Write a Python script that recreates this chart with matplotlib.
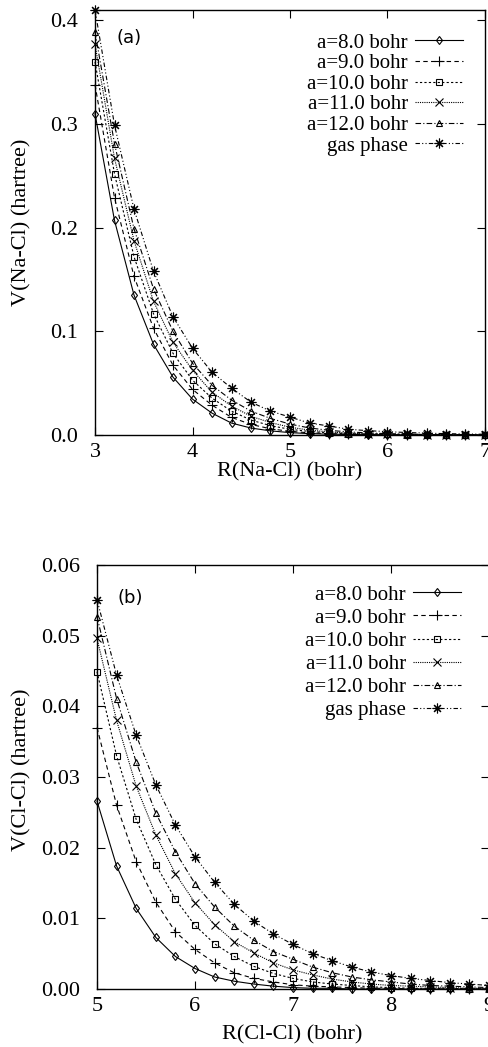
import matplotlib
matplotlib.use('Agg')
import matplotlib.pyplot as plt
import numpy as np

plt.rcParams['font.family'] = ['Liberation Serif', 'DejaVu Serif']
plt.rcParams['lines.linewidth'] = 0.8

labels = ['a=8.0 bohr', 'a=9.0 bohr', 'a=10.0 bohr', 'a=11.0 bohr', 'a=12.0 bohr', 'gas phase']

# (a) Na-Cl, R = 3.0 .. 7.0 step 0.2
r_nacl = np.round(np.arange(3.0, 7.01, 0.2), 1)
nacl_a8 = [0.310, 0.207, 0.135, 0.0875, 0.0558, 0.0346, 0.0211, 0.0115, 0.0067, 0.0040, 0.0023,
           0.0013, 0.0008, 0.0005, 0.0003, 0.0002, 0.0001, 0.0001, 0.0, 0.0, 0.0]
nacl_a9 = [0.338, 0.229, 0.153, 0.103, 0.0673, 0.0440, 0.0288, 0.0170, 0.0102, 0.0060, 0.0035,
           0.0021, 0.0013, 0.0008, 0.0005, 0.0003, 0.0002, 0.0001, 0.0001, 0.0, 0.0]
nacl_a10 = [0.360, 0.252, 0.172, 0.117, 0.0788, 0.0529, 0.0356, 0.0230, 0.0144, 0.0090, 0.0055,
            0.0034, 0.0021, 0.0013, 0.0008, 0.0005, 0.0003, 0.0002, 0.0001, 0.0001, 0.0]
nacl_a11 = [0.377, 0.267, 0.1875, 0.129, 0.0894, 0.0625, 0.0413, 0.0280, 0.0180, 0.0120, 0.0075,
            0.0047, 0.0030, 0.0019, 0.0012, 0.0008, 0.0005, 0.0003, 0.0002, 0.0001, 0.0001]
nacl_a12 = [0.389, 0.281, 0.199, 0.141, 0.100, 0.0692, 0.0480, 0.0337, 0.0230, 0.0160, 0.0105,
            0.0068, 0.0045, 0.0030, 0.0020, 0.0013, 0.0009, 0.0006, 0.0004, 0.0003, 0.0002]
nacl_gas = [0.410, 0.299, 0.218, 0.158, 0.114, 0.0837, 0.0606, 0.0452, 0.0317, 0.0230, 0.0173,
            0.0115, 0.0087, 0.0055, 0.0042, 0.0032, 0.0024, 0.0018, 0.0013, 0.0010, 0.0007]

# (b) Cl-Cl, R = 5.0 .. 9.0 step 0.2
r_clcl = np.round(np.arange(5.0, 9.01, 0.2), 1)
clcl_a8 = [0.0266, 0.0174, 0.0114, 0.0073, 0.0046, 0.0029, 0.0017, 0.0011, 0.0007, 0.0004, 0.0002,
           0.0001, 0.0001, 0.0, 0.0, 0.0, 0.0, 0.0, 0.0, 0.0, 0.0]
clcl_a9 = [0.0370, 0.0260, 0.0180, 0.0123, 0.0081, 0.0056, 0.0037, 0.0023, 0.0015, 0.0010, 0.0006,
           0.0004, 0.0003, 0.0002, 0.0001, 0.0001, 0.0, 0.0, 0.0, 0.0, 0.0]
clcl_a10 = [0.0449, 0.0330, 0.0240, 0.0176, 0.0127, 0.0090, 0.0064, 0.0046, 0.0032, 0.0022, 0.0015,
            0.0010, 0.0007, 0.0005, 0.0003, 0.0002, 0.0001, 0.0001, 0.0001, 0.0, 0.0]
clcl_a11 = [0.0496, 0.0380, 0.0287, 0.0218, 0.0163, 0.0122, 0.0091, 0.0067, 0.0051, 0.0037, 0.0027,
            0.0020, 0.0014, 0.0010, 0.0007, 0.0005, 0.0004, 0.0003, 0.0002, 0.0001, 0.0001]
clcl_a12 = [0.0527, 0.0411, 0.0321, 0.0249, 0.0194, 0.0149, 0.0116, 0.0089, 0.0069, 0.0053, 0.0042,
            0.0031, 0.0023, 0.0017, 0.0013, 0.0010, 0.0007, 0.0005, 0.0004, 0.0003, 0.0002]
clcl_gas = [0.0551, 0.0444, 0.0359, 0.0289, 0.0232, 0.0187, 0.0151, 0.0120, 0.0096, 0.0078, 0.0063,
            0.0050, 0.0040, 0.0031, 0.0024, 0.0019, 0.0015, 0.0012, 0.0009, 0.0007, 0.0005]

styles = [
    dict(ls='-', marker='d', ms=4.5),
    dict(ls=(0, (4, 3)), marker='+', ms=7),
    dict(ls=(0, (2, 2)), marker='s', ms=5),
    dict(ls=(0, (1, 1)), marker='x', ms=6),
    dict(ls=(0, (5, 2, 1, 2)), marker='^', ms=5),
    dict(ls=(0, (4, 2, 1, 2, 1, 2)), marker=(8, 2, 0), ms=7),
]

W, H = 489, 1047
fig = plt.figure(figsize=(W / 100, H / 100), dpi=100)


def px_axes(x0, y0, x1, y1):
    return fig.add_axes([x0 / W, 1 - y1 / H, (x1 - x0) / W, (y1 - y0) / H])


def draw(ax, r, series, legend_top, legend_right, spacing):
    for y, st, lab in zip(series, styles, labels):
        ax.plot(r, y, color='black', linestyle=st['ls'], marker=st['marker'], ms=st['ms'],
                mfc='none', mec='black', mew=0.8, label=lab, clip_on=False)
    ax.tick_params(direction='in', top=True, right=True, length=6, width=0.8,
                   labelsize=16, pad=6)
    ax.tick_params(axis='y', pad=12)
    for s in ax.spines.values():
        s.set_linewidth(1.0)
    leg = ax.legend(loc='upper right', bbox_to_anchor=(legend_right / W, 1 - legend_top / H),
                    bbox_transform=fig.transFigure, frameon=False, markerfirst=False,
                    fontsize=15, handlelength=2.3, handletextpad=0.35, labelspacing=spacing,
                    borderpad=0, borderaxespad=0, numpoints=1)
    return leg


# panel (a)
ax1 = px_axes(95, 10, 485, 435)
draw(ax1, r_nacl, [nacl_a8, nacl_a9, nacl_a10, nacl_a11, nacl_a12, nacl_gas], 33, 463, 0.05)
ax1.set_xlim(3, 7)
ax1.set_ylim(0, 0.41)
ax1.set_xticks([3, 4, 5, 6, 7])
ax1.set_yticks([0.0, 0.1, 0.2, 0.3, 0.4])
ax1.yaxis.set_major_formatter(matplotlib.ticker.FormatStrFormatter('%.1f'))
fig.text(117 / W, 1 - 38 / H, '(a)', family='DejaVu Sans', fontsize=13, ha='left', va='center')
fig.text(290 / W, 1 - 472 / H, 'R(Na-Cl) (bohr)', fontsize=16, ha='center', va='center')
fig.text(22 / W, 1 - 222 / H, 'V(Na-Cl) (hartree)', fontsize=16, ha='center', va='center',
         rotation=90)

# panel (b)
ax2 = px_axes(97, 565, 489, 989)
draw(ax2, r_clcl, [clcl_a8, clcl_a9, clcl_a10, clcl_a11, clcl_a12, clcl_gas], 585, 461, 0.17)
ax2.set_xlim(5, 9)
ax2.set_ylim(0, 0.06)
ax2.set_xticks([5, 6, 7, 8, 9])
ax2.set_yticks([0.0, 0.01, 0.02, 0.03, 0.04, 0.05, 0.06])
ax2.yaxis.set_major_formatter(matplotlib.ticker.FormatStrFormatter('%.2f'))
fig.text(118 / W, 1 - 598 / H, '(b)', family='DejaVu Sans', fontsize=13, ha='left', va='center')
fig.text(292 / W, 1 - 1035 / H, 'R(Cl-Cl) (bohr)', fontsize=16, ha='center', va='center')
fig.text(22 / W, 1 - 770 / H, 'V(Cl-Cl) (hartree)', fontsize=16, ha='center', va='center',
         rotation=90)

fig.savefig('out.png', dpi=100)
